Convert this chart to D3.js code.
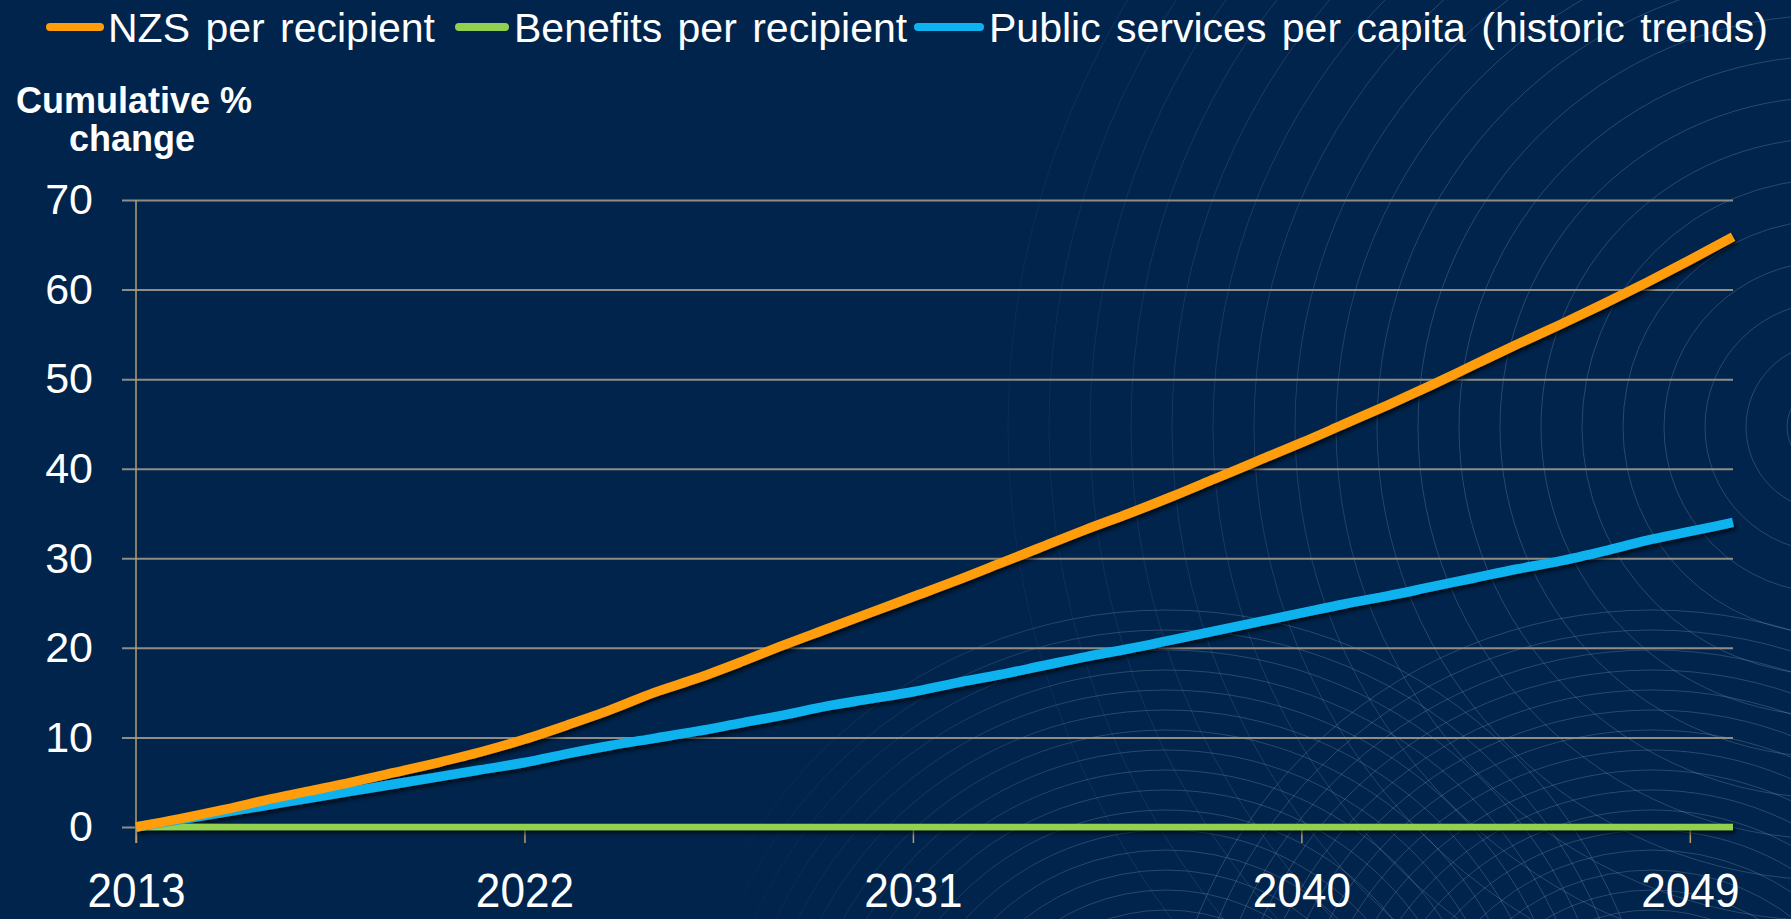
<!DOCTYPE html>
<html>
<head>
<meta charset="utf-8">
<script src="https://cdn.jsdelivr.net/npm/d3@7"></script>
<style>
  html, body { margin: 0; padding: 0; background: #00244c; }
  svg { display: block; }
  text { font-family: "Liberation Sans", Arial, sans-serif; fill: #ffffff; }
</style>
</head>
<body>
<svg id="chart" width="1791" height="919"></svg>
<script>
// Years on the category axis
const years = d3.range(2013, 2051);
const xTickLabels = [2013, 2022, 2031, 2040, 2049];
const yTickLabels = [0, 10, 20, 30, 40, 50, 60, 70];

// Cumulative % change since 2013
const nzsPerRecipient = [
  0, 0.9, 1.9, 3.0, 4.0, 5.0, 6.1, 7.2, 8.4, 9.8,
  11.4, 13.1, 15.0, 16.6, 18.4, 20.3, 22.1, 23.9, 25.7, 27.5,
  29.4, 31.3, 33.2, 35.0, 36.9, 38.9, 40.9, 42.9, 45.0, 47.1,
  49.3, 51.6, 53.9, 56.1, 58.4, 60.8, 63.3, 65.9
];
const benefitsPerRecipient = [
  0, 0, 0, 0, 0, 0, 0, 0, 0, 0,
  0, 0, 0, 0, 0, 0, 0, 0, 0, 0,
  0, 0, 0, 0, 0, 0, 0, 0, 0, 0,
  0, 0, 0, 0, 0, 0, 0, 0
];
const publicServicesPerCapita = [
  0, 0.8, 1.6, 2.4, 3.2, 4.0, 4.8, 5.6, 6.4, 7.2,
  8.2, 9.1, 9.9, 10.7, 11.6, 12.5, 13.5, 14.3, 15.1, 16.1,
  17.0, 18.0, 19.0, 19.9, 20.9, 21.9, 22.9, 23.9, 24.9, 25.8,
  26.8, 27.8, 28.8, 29.7, 30.8, 32.0, 33.0, 34.0
];

const seriesNames = ["NZS per recipient", "Benefits per recipient", "Public services per capita (historic trends)"];
const seriesColors = ["#ff9d0a", "#92d050", "#0db2ef"];
const seriesValues = [nzsPerRecipient, benefitsPerRecipient, publicServicesPerCapita];

const svg = d3.select("#chart");
const W = 1791, H = 919;

// ---------- background ----------
svg.append("rect").attr("width", W).attr("height", H).attr("fill", "#00244c");

const defs = svg.append("defs");

const fadeRight = defs.append("linearGradient").attr("id", "fadeRight")
  .attr("gradientUnits", "userSpaceOnUse").attr("x1", 880).attr("x2", 1450).attr("y1", 0).attr("y2", 0);
fadeRight.append("stop").attr("offset", 0).attr("stop-color", "#fff").attr("stop-opacity", 0);
fadeRight.append("stop").attr("offset", 1).attr("stop-color", "#fff").attr("stop-opacity", 1);
defs.append("mask").attr("id", "maskRight")
  .append("rect").attr("width", W).attr("height", H).attr("fill", "url(#fadeRight)");

const fadeLow = defs.append("linearGradient").attr("id", "fadeLow")
  .attr("gradientUnits", "userSpaceOnUse").attr("x1", 700).attr("x2", 1100).attr("y1", 0).attr("y2", 0);
fadeLow.append("stop").attr("offset", 0).attr("stop-color", "#fff").attr("stop-opacity", 0);
fadeLow.append("stop").attr("offset", 1).attr("stop-color", "#fff").attr("stop-opacity", 1);
defs.append("mask").attr("id", "maskLow")
  .append("rect").attr("width", W).attr("height", H).attr("fill", "url(#fadeLow)");

// decorative concentric rings
function rings(g, cx, cy, r0, step, n) {
  g.selectAll(null).data(d3.range(n)).join("circle")
    .attr("cx", cx).attr("cy", cy)
    .attr("r", i => r0 + i * step)
    .attr("fill", "none")
    .attr("stroke", "#9fb4cf")
    .attr("stroke-opacity", 0.32)
    .attr("stroke-width", 0.8);
}
const deco = svg.append("g");
rings(deco.append("g").attr("mask", "url(#maskRight)"), 1830, 427, 43, 41, 20);
const low = deco.append("g").attr("mask", "url(#maskLow)");
rings(low, 1166, 1100, 190, 20, 16);
rings(low, 1652, 1100, 190, 20, 16);

// drop shadow for series lines
const shadow = defs.append("filter").attr("id", "lineShadow")
  .attr("x", "-5%").attr("y", "-20%").attr("width", "110%").attr("height", "140%");
shadow.append("feDropShadow").attr("dx", 2).attr("dy", 3).attr("stdDeviation", 2)
  .attr("flood-color", "#000").attr("flood-opacity", 0.7);

// ---------- scales ----------
const x = d3.scaleLinear().domain([2013, 2050]).range([136, 1733]);
const y = d3.scaleLinear().domain([0, 70]).range([827, 200]);

// horizontal gridlines + y labels
const yAxis = svg.append("g")
  .attr("transform", "translate(122,0)")
  .call(d3.axisLeft(y).tickValues(yTickLabels).tickSize(-(1733 - 122)).tickPadding(29).tickFormat(d3.format("d")));
yAxis.select(".domain").remove();
yAxis.selectAll(".tick line").attr("stroke", "#8f8d86").attr("stroke-width", 2);
yAxis.selectAll(".tick text")
  .style("font-family", "'Liberation Sans', Arial, sans-serif")
  .attr("font-size", 43).attr("fill", "#ffffff");

// vertical axis line
svg.append("line")
  .attr("x1", x(2013)).attr("x2", x(2013))
  .attr("y1", y(70)).attr("y2", y(0) + 16)
  .attr("stroke", "#b59f6e").attr("stroke-width", 1.5);

// x axis ticks + labels
const xAxis = svg.append("g")
  .attr("transform", `translate(0,${y(0)})`)
  .call(d3.axisBottom(x).tickValues(xTickLabels).tickSize(16).tickPadding(30).tickFormat(d3.format("d")));
xAxis.select(".domain").remove();
xAxis.selectAll(".tick line").attr("stroke", "#b59f6e").attr("stroke-width", 1.5);
xAxis.selectAll(".tick text")
  .style("font-family", "'Liberation Sans', Arial, sans-serif")
  .attr("font-size", 48).attr("fill", "#ffffff")
  .attr("transform", "scale(0.92,1)");

// ---------- series ----------
const line = d3.line().x((d, i) => x(years[i])).y(d => y(d)).curve(d3.curveMonotoneX);
const drawOrder = [1, 2, 0];
svg.append("g").attr("filter", "url(#lineShadow)")
  .selectAll("path").data(drawOrder).join("path")
  .attr("d", k => line(seriesValues[k]))
  .attr("fill", "none")
  .attr("stroke", k => seriesColors[k])
  .attr("stroke-width", k => k === 1 ? 6.5 : 9.5)
  .attr("stroke-linejoin", "round");

// ---------- legend ----------
const legendItems = [
  { sx: 46, sw: 58, tx: 108 },
  { sx: 455, sw: 54, tx: 514 },
  { sx: 914, sw: 70, tx: 989 }
];
const legend = svg.append("g");
legendItems.forEach((it, k) => {
  legend.append("line")
    .attr("x1", it.sx + 4).attr("x2", it.sx + it.sw - 4)
    .attr("y1", 27).attr("y2", 27)
    .attr("stroke", seriesColors[k]).attr("stroke-width", 8).attr("stroke-linecap", "round");
  legend.append("text")
    .attr("x", it.tx).attr("y", 42)
    .attr("font-size", 41)
    .attr("word-spacing", 4)
    .text(seriesNames[k]);
});

// ---------- y axis title ----------
svg.append("text").attr("x", 134).attr("y", 113).attr("text-anchor", "middle")
  .attr("font-size", 36).attr("font-weight", "bold").text("Cumulative %");
svg.append("text").attr("x", 132).attr("y", 151).attr("text-anchor", "middle")
  .attr("font-size", 36).attr("font-weight", "bold").text("change");
</script>
</body>
</html>
